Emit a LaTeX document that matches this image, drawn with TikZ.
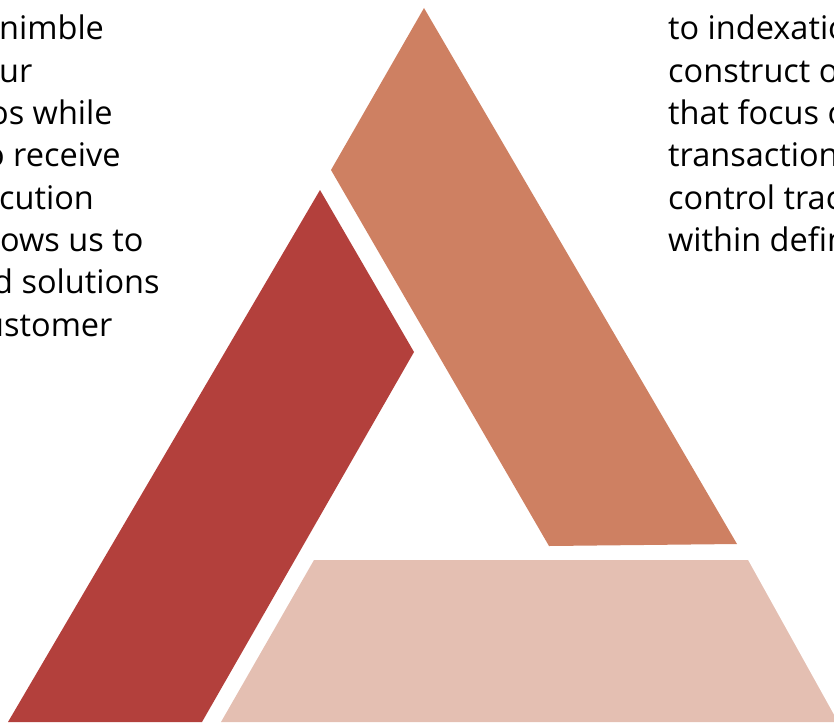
\documentclass[tikz,border=0pt]{standalone}
\usepackage{fontspec}
\setmainfont{Open Sans}
\definecolor{brickred}{HTML}{B3403C}
\definecolor{terracotta}{HTML}{CE8062}
\definecolor{blush}{HTML}{E4BFB2}

\begin{document}
\begin{tikzpicture}[x=1pt,y=-1pt]
            \useasboundingbox (0,0) rectangle (834,725);
            \clip (0,0) rectangle (834,725);
            \tikzset{linetext/.style={inner sep=0pt,anchor=base west,font=\fontsize{32.5}{42}\selectfont}}

            % the three sides of the triangle
            \fill[brickred] (320,190) coordinate (r1) -- (414,352) coordinate (r2) -- (202,722) coordinate (r3) -- (8,722) coordinate (r4) -- cycle;
            \fill[terracotta] (424,8) coordinate (o1) -- (737,544) coordinate (o2) -- (549,546) coordinate (o3) -- (331,170) coordinate (o4) -- cycle;
            \fill[blush] (314,560) coordinate (p1) -- (748,560) coordinate (p2) -- (838,722) coordinate (p3) -- (221,722) coordinate (p4) -- cycle;

            % text cut off at the left edge
            \foreach \t/\x [count=\i from 0] in {nimble/-1,ur/-1,os while/-11,o receive/-15,cution/-1,ows us to/0,d solutions/-7,ustomer/-16} {
            \node[linetext] (left\i) at (\x,40+42.3*\i) {\t};}

            % text cut off at the right edge
            \foreach \t [count=\i from 0] in {to indexatio,construct o,that focus o,transaction,control trac,within defin} {
            \node[linetext] (right\i) at (668,40+42.3*\i) {\t};}
        \end{tikzpicture}
\end{document}
